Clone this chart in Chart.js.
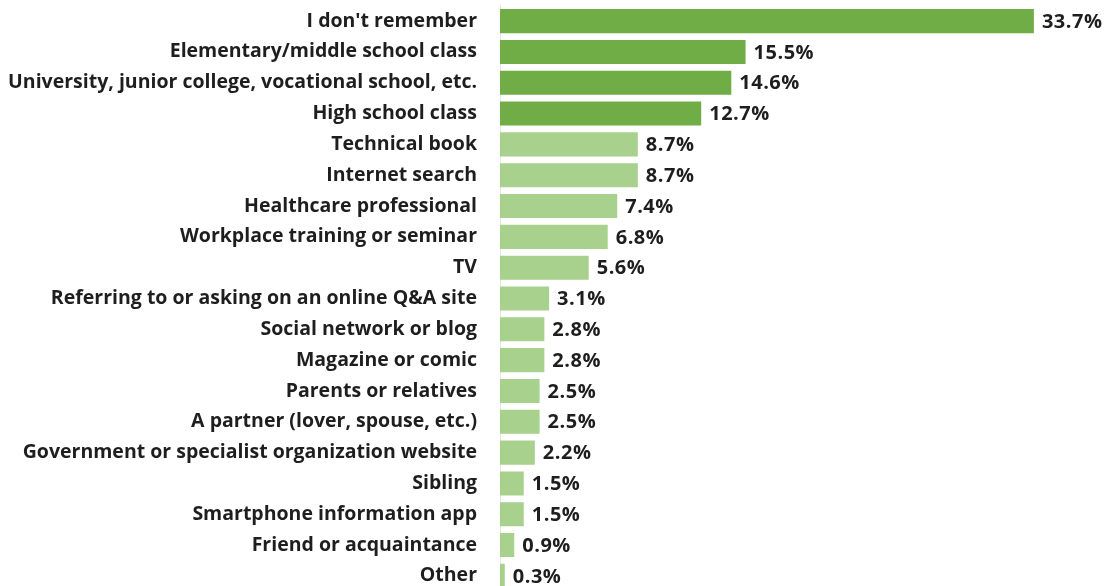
<!DOCTYPE html>
<html>
<head>
<meta charset="utf-8">
<script src="https://cdn.jsdelivr.net/npm/chart.js@4"></script>
<style>
  html, body { margin: 0; padding: 0; background: #fff; overflow: hidden; }
  #wrap { width: 1114px; height: 586px; overflow: hidden; }
  #c { display: block; margin-top: -6px; }
</style>
</head>
<body>
<div id="wrap"><canvas id="c" width="1114" height="609"></canvas></div>
<script>
// Where respondents learned about the topic (% of respondents)
const categories = [
  "I don't remember",
  "Elementary/middle school class",
  "University, junior college, vocational school, etc.",
  "High school class",
  "Technical book",
  "Internet search",
  "Healthcare professional",
  "Workplace training or seminar",
  "TV",
  "Referring to or asking on an online Q&A site",
  "Social network or blog",
  "Magazine or comic",
  "Parents or relatives",
  "A partner (lover, spouse, etc.)",
  "Government or specialist organization website",
  "Sibling",
  "Smartphone information app",
  "Friend or acquaintance",
  "Other"
];
const shares = [33.7, 15.5, 14.6, 12.7, 8.7, 8.7, 7.4, 6.8, 5.6, 3.1, 2.8, 2.8, 2.5, 2.5, 2.2, 1.5, 1.5, 0.9, 0.3];
// School-related sources are highlighted in the darker green
const highlighted = [true, true, true, true, false, false, false, false, false, false, false, false, false, false, false, false, false, false, false];

const DARK = '#70AD47';
const LIGHT = '#A9D18E';
const FONT = '"Open Sans", "Noto Sans", sans-serif';

const valueLabels = {
  id: 'valueLabels',
  afterDatasetsDraw(chart) {
    const ctx = chart.ctx;
    const meta = chart.getDatasetMeta(0);
    ctx.save();
    ctx.font = 'bold 20px ' + FONT;
    ctx.letterSpacing = '0.5px';
    ctx.fillStyle = '#1e1e1e';
    ctx.textAlign = 'left';
    ctx.textBaseline = 'middle';
    meta.data.forEach((bar, i) => {
      ctx.fillText(shares[i].toFixed(1) + '%', bar.x + 8, bar.y + 1);
    });
    ctx.restore();
  }
};

new Chart(document.getElementById('c'), {
  type: 'bar',
  data: {
    labels: categories,
    datasets: [{
      data: shares,
      backgroundColor: highlighted.map(h => h ? DARK : LIGHT),
      borderWidth: 0,
      categoryPercentage: 1,
      barPercentage: 0.78
    }]
  },
  options: {
    indexAxis: 'y',
    responsive: false,
    animation: false,
    devicePixelRatio: 1,
    layout: { padding: { top: 0, right: 12, bottom: 0, left: 0 } },
    plugins: { legend: { display: false }, tooltip: { enabled: false } },
    scales: {
      x: { display: false, min: 0, max: 38 },
      y: {
        afterFit(scale) { scale.width = 500; },
        grid: {
          display: true,
          drawOnChartArea: false,
          drawTicks: true,
          tickLength: 23,
          color: 'rgba(0,0,0,0)'
        },
        border: { display: true, color: '#e6e6e6' },
        ticks: {
          padding: 0,
          color: '#1e1e1e',
          font: { family: FONT, size: 19.5, weight: 'bold' },
          autoSkip: false
        }
      }
    }
  },
  plugins: [valueLabels]
});
</script>
</body>
</html>
